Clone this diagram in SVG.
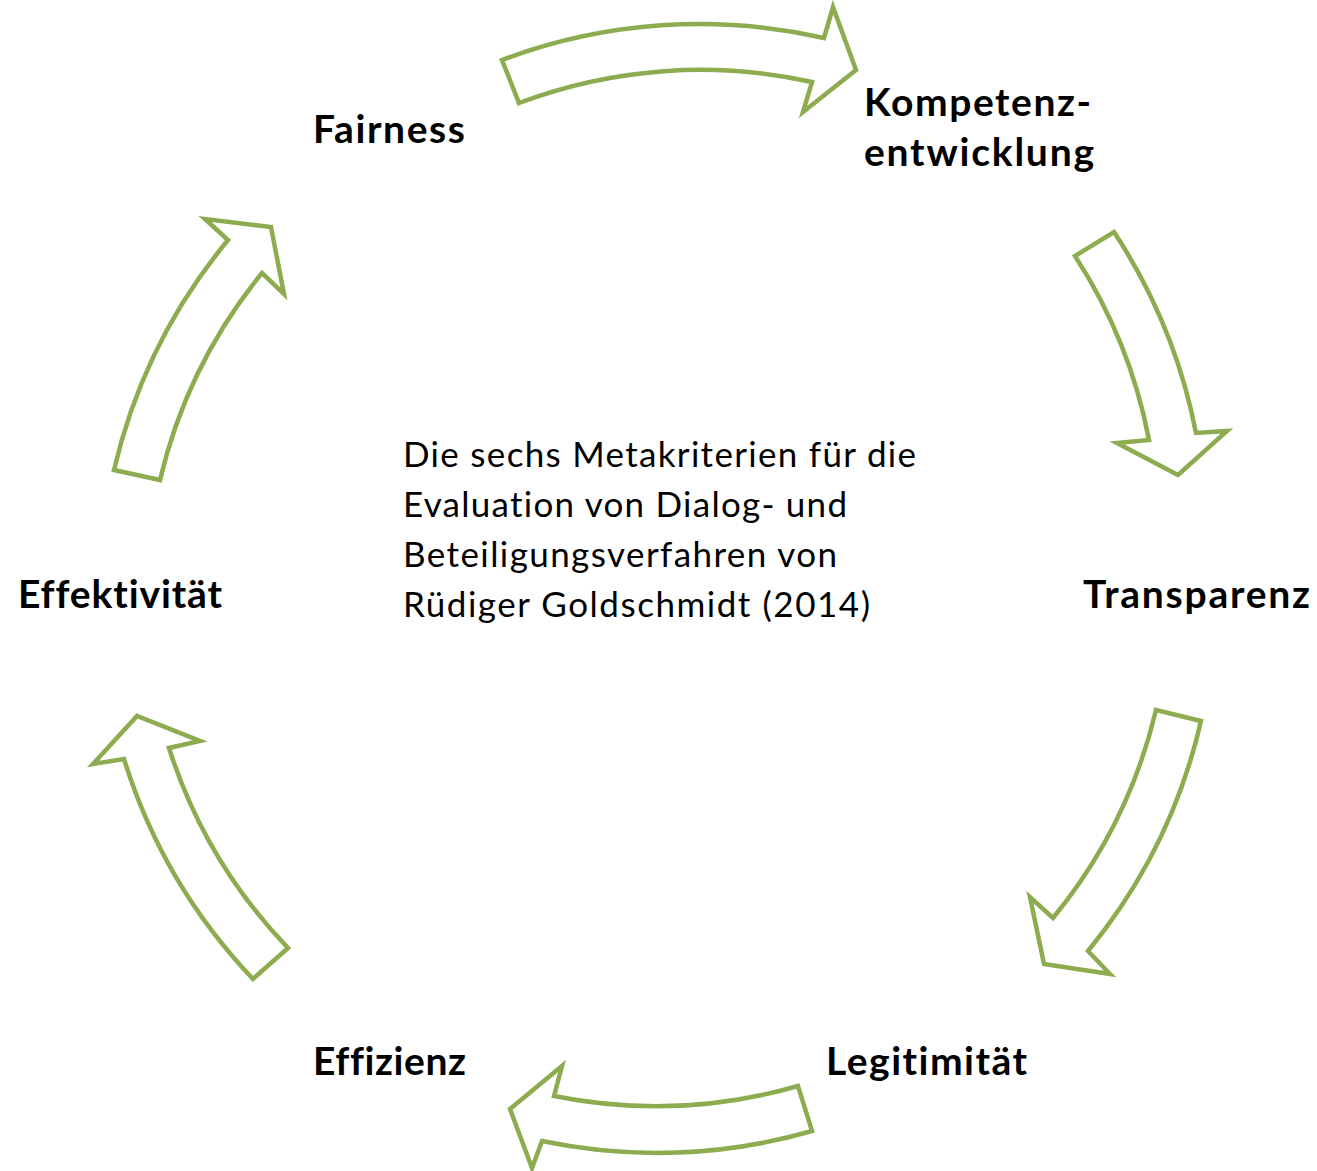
<svg xmlns="http://www.w3.org/2000/svg" width="1317" height="1171" viewBox="0 0 1317 1171">
  <style>
    .arrow { fill: #ffffff; stroke: #8DAB4F; stroke-width: 4.5; stroke-linejoin: miter; }
    .label { font-family: Lato, "Open Sans", sans-serif; font-weight: bold; font-size: 39px; fill: #000000; font-variant-ligatures: none; }
    .body { font-family: Lato, "Open Sans", sans-serif; font-size: 35px; fill: #000000; font-variant-ligatures: none; }
  </style>
  <rect width="1317" height="1171" fill="#ffffff"/>

  <!-- curved block arrows forming the cycle -->
  <g id="connectors">
    <path class="arrow" d="M502,60 A560,560 0 0 1 824,38 L833,7 L856,70 L803,112 L812,82 A515,515 0 0 0 519,103 Z"/>
    <path class="arrow" d="M1114,232 A560,560 0 0 1 1196,433 L1227,431 L1178,475 L1117,443 L1149,440 A515,515 0 0 0 1075,256 Z"/>
    <path class="arrow" d="M1201,721 A560,560 0 0 1 1088,951 L1110,974 L1044,964 L1030,897 L1053,918 A515,515 0 0 0 1156,710 Z"/>
    <path class="arrow" d="M812,1131 A560,560 0 0 1 542,1141 L532,1168 L510,1109 L562,1066 L554,1096 A515,515 0 0 0 798,1086 Z"/>
    <path class="arrow" d="M253,979 A560,560 0 0 1 124,759 L93,764 L137,716 L200,741 L169,748 A515,515 0 0 0 288,948 Z"/>
    <path class="arrow" d="M114,470 A560,560 0 0 1 228,240 L205,219 L271,227 L284,294 L262,273 A515,515 0 0 0 160,480 Z"/>
  </g>

  <!-- criteria -->
  <g id="fairness"><text class="label" x="313" y="143" textLength="152" lengthAdjust="spacing">Fairness</text></g>
  <g id="kompetenzentwicklung">
    <text class="label" x="864" y="116" textLength="227" lengthAdjust="spacing">Kompetenz-</text>
    <text class="label" x="864" y="166" textLength="230" lengthAdjust="spacing">entwicklung</text>
  </g>
  <g id="transparenz"><text class="label" x="1083" y="608" textLength="227" lengthAdjust="spacing">Transparenz</text></g>
  <g id="legitimitaet"><text class="label" x="826" y="1075" textLength="201" lengthAdjust="spacing">Legitimität</text></g>
  <g id="effizienz"><text class="label" x="313" y="1075" textLength="153" lengthAdjust="spacing">Effizienz</text></g>
  <g id="effektivitaet"><text class="label" x="18" y="608" textLength="204" lengthAdjust="spacing">Effektivität</text></g>

  <!-- centre caption -->
  <g id="caption">
    <text class="body" x="403" y="467" textLength="513" lengthAdjust="spacing">Die sechs Metakriterien für die</text>
    <text class="body" x="403" y="517" textLength="444" lengthAdjust="spacing">Evaluation von Dialog- und</text>
    <text class="body" x="403" y="567" textLength="434" lengthAdjust="spacing">Beteiligungsverfahren von</text>
    <text class="body" x="403" y="617" textLength="467" lengthAdjust="spacing">Rüdiger Goldschmidt (2014)</text>
  </g>
</svg>
